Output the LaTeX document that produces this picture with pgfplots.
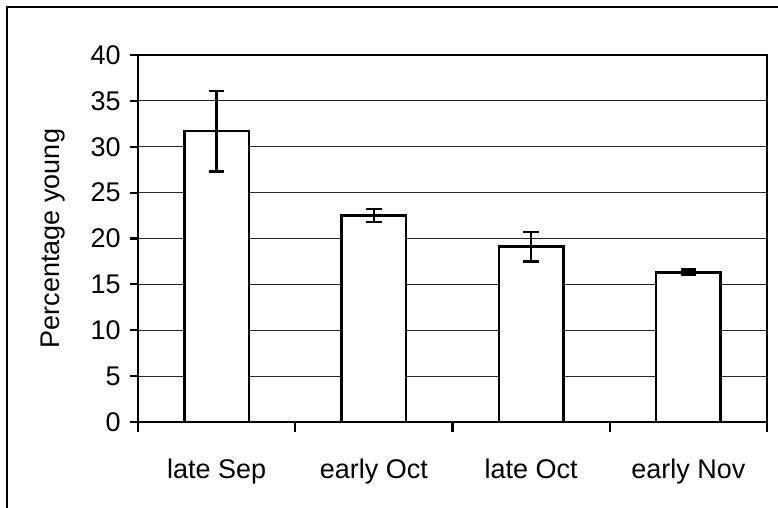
\documentclass[border=0pt]{standalone}
\usepackage{pgfplots}
\pgfplotsset{compat=1.18}
\usepackage{fontspec}
\setmainfont{Liberation Sans}
\begin{document}
\fontsize{13.5}{16}\selectfont
\begin{tikzpicture}
\useasboundingbox (0,0) rectangle (389pt,254pt);
\draw[line width=1pt] (3.5pt,-10pt) rectangle (400pt,250.5pt);
\begin{axis}[
  at={(69pt,43pt)}, anchor=south west,
  scale only axis, width=314.5pt, height=183.5pt,
  xmin=-0.5, xmax=3.5, ymin=0, ymax=40,
  ytick={0,5,...,40},
  xtick={0,1,2,3},
  xticklabels={late Sep, early Oct, late Oct, early Nov},
  minor xtick={-0.5,0.5,1.5,2.5,3.5},
  tick align=outside, tick pos=left,
  major tick length=4pt, minor tick length=5pt,
  tick style={black, line width=1.1pt},
  every major x tick/.style={draw=none},
  axis line style={line width=1.3pt},
  ymajorgrids, grid style={black!85, line width=0.45pt},
  /pgf/number format/assume math mode=true,
  ticklabel style={font=\fontsize{13.5}{16}\selectfont},
  xticklabel style={yshift=-10pt},
  ylabel={Percentage young},
  ylabel style={font=\fontsize{13.5}{16}\selectfont},
  every axis y label/.style={at={(axis description cs:-0.135,0.5)}, rotate=90, anchor=center},
  ybar, bar width=0.41, bar shift=0pt,
]
\addplot[fill=white, draw=black, line width=1.3pt,
  error bars/.cd, y dir=both, y explicit,
  error bar style={line width=1.2pt},
  error mark options={rotate=90, mark size=3.9pt, line width=1.2pt}]
  coordinates {(0,31.7) +- (0,4.4) (1,22.5) +- (0,0.7) (2,19.1) +- (0,1.6) (3,16.3) +- (0,0.3)};
\end{axis}
\end{tikzpicture}
\end{document}
